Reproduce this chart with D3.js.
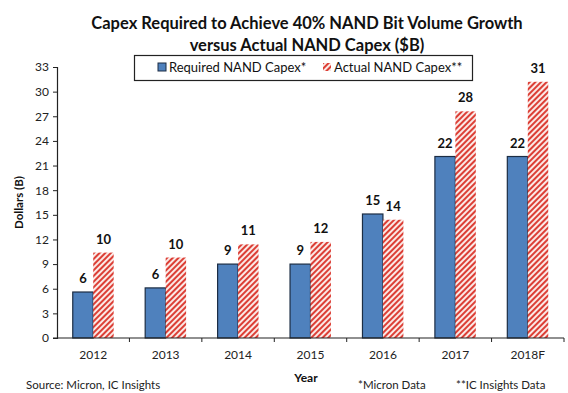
<!DOCTYPE html>
<html>
<head>
<meta charset="utf-8">
<script src="https://cdn.jsdelivr.net/npm/d3@7"></script>
<style>
  body { margin: 0; background: #fff; }
  svg { font-family: Lato, "Open Sans", sans-serif; }
</style>
</head>
<body>
<div id="canvas"></div>
<script>
// chart data
const years = ["2012", "2013", "2014", "2015", "2016", "2017", "2018F"];
const required = [5.6, 6.1, 9.0, 9.0, 15.1, 22.1, 22.1];
const actual = [10.4, 9.8, 11.4, 11.7, 14.4, 27.6, 31.2];
const seriesNames = ["Required NAND Capex*", "Actual NAND Capex**"];
const yTicks = [0, 3, 6, 9, 12, 15, 18, 21, 24, 27, 30, 33];

const width = 568;
const height = 393;
const margin = { top: 67, right: 4, bottom: 55, left: 57 };

const svg = d3.select("#canvas")
    .append("svg")
    .attr("width", width)
    .attr("height", height);

// hatch pattern for actual capex
const defs = svg.append("defs");
const pat = defs.append("pattern")
    .attr("id", "hatch")
    .attr("patternUnits", "userSpaceOnUse")
    .attr("width", 4)
    .attr("height", 4)
    .attr("patternTransform", "rotate(45)");
pat.append("rect").attr("width", 4).attr("height", 4).attr("fill", "#fbe9e6");
pat.append("rect").attr("width", 2).attr("height", 4).attr("fill", "#dc3f36");

const rows = years.map((y, i) => ({ year: y, values: [required[i], actual[i]] }));

const x0 = d3.scaleBand()
    .domain(years)
    .range([margin.left, width - margin.right])
    .padding(0);

const x1 = d3.scaleBand()
    .domain([0, 1])
    .range([0, x0.bandwidth()])
    .paddingInner(0)
    .paddingOuter(0.77);

const y = d3.scaleLinear()
    .domain([0, 33])
    .range([height - margin.bottom, margin.top]);

// title
const title = svg.append("text")
    .attr("x", 307)
    .attr("text-anchor", "middle")
    .style("font-weight", "bold")
    .style("font-size", "16.5px")
    .attr("fill", "#111");
title.append("tspan").attr("x", 307).attr("y", 29).text("Capex Required to Achieve 40% NAND Bit Volume Growth");
title.append("tspan").attr("x", 307).attr("y", 51).text("versus Actual NAND Capex ($B)");

// bars
const groups = svg.append("g")
    .selectAll("g")
    .data(rows)
    .join("g")
    .attr("transform", d => `translate(${x0(d.year)},0)`);

groups.selectAll("rect")
    .data(d => d.values.map((v, k) => ({ k, v })))
    .join("rect")
    .attr("x", d => x1(d.k))
    .attr("y", d => y(d.v))
    .attr("width", x1.bandwidth())
    .attr("height", d => y(0) - y(d.v))
    .attr("fill", d => d.k === 0 ? "#4f81bd" : "url(#hatch)")
    .attr("stroke", d => d.k === 0 ? "#1c2d44" : "none")
    .attr("stroke-width", 1.2);

groups.selectAll("text")
    .data(d => d.values.map((v, k) => ({ k, v })))
    .join("text")
    .attr("x", d => x1(d.k) + x1.bandwidth() / 2)
    .attr("y", d => y(d.v) - 9)
    .attr("text-anchor", "middle")
    .style("font-weight", "bold")
    .style("font-size", "13px")
    .attr("fill", "#111")
    .text(d => Math.round(d.v));

// y axis
const yAxis = svg.append("g")
    .attr("transform", `translate(${margin.left},0)`)
    .call(d3.axisLeft(y).tickValues(yTicks).tickSize(4).tickPadding(4));
yAxis.select(".domain").attr("stroke", "#222").attr("stroke-width", 1.2);
yAxis.selectAll(".tick line").attr("stroke", "#222");
yAxis.selectAll("text").style("font-size", "12px").attr("fill", "#222")
    .style("font-family", "Lato, sans-serif");

// x axis with ticks at category boundaries
const xAxis = svg.append("g")
    .attr("transform", `translate(0,${y(0)})`);
xAxis.append("line")
    .attr("x1", margin.left - 4)
    .attr("x2", width - margin.right)
    .attr("stroke", "#222")
    .attr("stroke-width", 1.2);
xAxis.selectAll(".bound")
    .data(years.slice(1).concat(["end"]))
    .join("line")
    .attr("class", "bound")
    .attr("x1", (d, i) => margin.left + (i + 1) * x0.step())
    .attr("x2", (d, i) => margin.left + (i + 1) * x0.step())
    .attr("y1", 0)
    .attr("y2", 4)
    .attr("stroke", "#222");
xAxis.selectAll(".lbl")
    .data(years)
    .join("text")
    .attr("class", "lbl")
    .attr("x", d => x0(d) + x0.bandwidth() / 2)
    .attr("y", 21)
    .attr("text-anchor", "middle")
    .style("font-size", "12px")
    .attr("fill", "#222")
    .text(d => d);

// axis titles
svg.append("text")
    .attr("transform", `translate(23,${(y(0) + y(33)) / 2}) rotate(-90)`)
    .attr("text-anchor", "middle")
    .style("font-weight", "bold")
    .style("font-size", "11.5px")
    .attr("fill", "#111")
    .text("Dollars (B)");

svg.append("text")
    .attr("x", 306)
    .attr("y", 382)
    .attr("text-anchor", "middle")
    .style("font-weight", "bold")
    .style("font-size", "12px")
    .attr("fill", "#111")
    .text("Year");

// footnotes
const notes = [
    { x: 26, t: "Source: Micron, IC Insights" },
    { x: 358, t: "*Micron Data" },
    { x: 456, t: "**IC Insights Data" }
];
svg.selectAll(".note")
    .data(notes)
    .join("text")
    .attr("class", "note")
    .attr("x", d => d.x)
    .attr("y", 389)
    .style("font-size", "11.5px")
    .attr("fill", "#222")
    .text(d => d.t);

// legend
const legend = svg.append("g");
legend.append("rect")
    .attr("x", 134.5)
    .attr("y", 55.5)
    .attr("width", 338)
    .attr("height", 25)
    .attr("fill", "#fff")
    .attr("stroke", "#222")
    .attr("stroke-width", 1.2);

const legX = [158, 323];
seriesNames.forEach((name, k) => {
    legend.append("rect")
        .attr("x", legX[k])
        .attr("y", 63)
        .attr("width", 8)
        .attr("height", 8)
        .attr("fill", k === 0 ? "#4f81bd" : "url(#hatch)")
        .attr("stroke", k === 0 ? "#1c2d44" : "none");
    legend.append("text")
        .attr("x", legX[k] + 11)
        .attr("y", 72)
        .style("font-size", "13px")
        .attr("fill", "#111")
        .text(name);
});
</script>
</body>
</html>
